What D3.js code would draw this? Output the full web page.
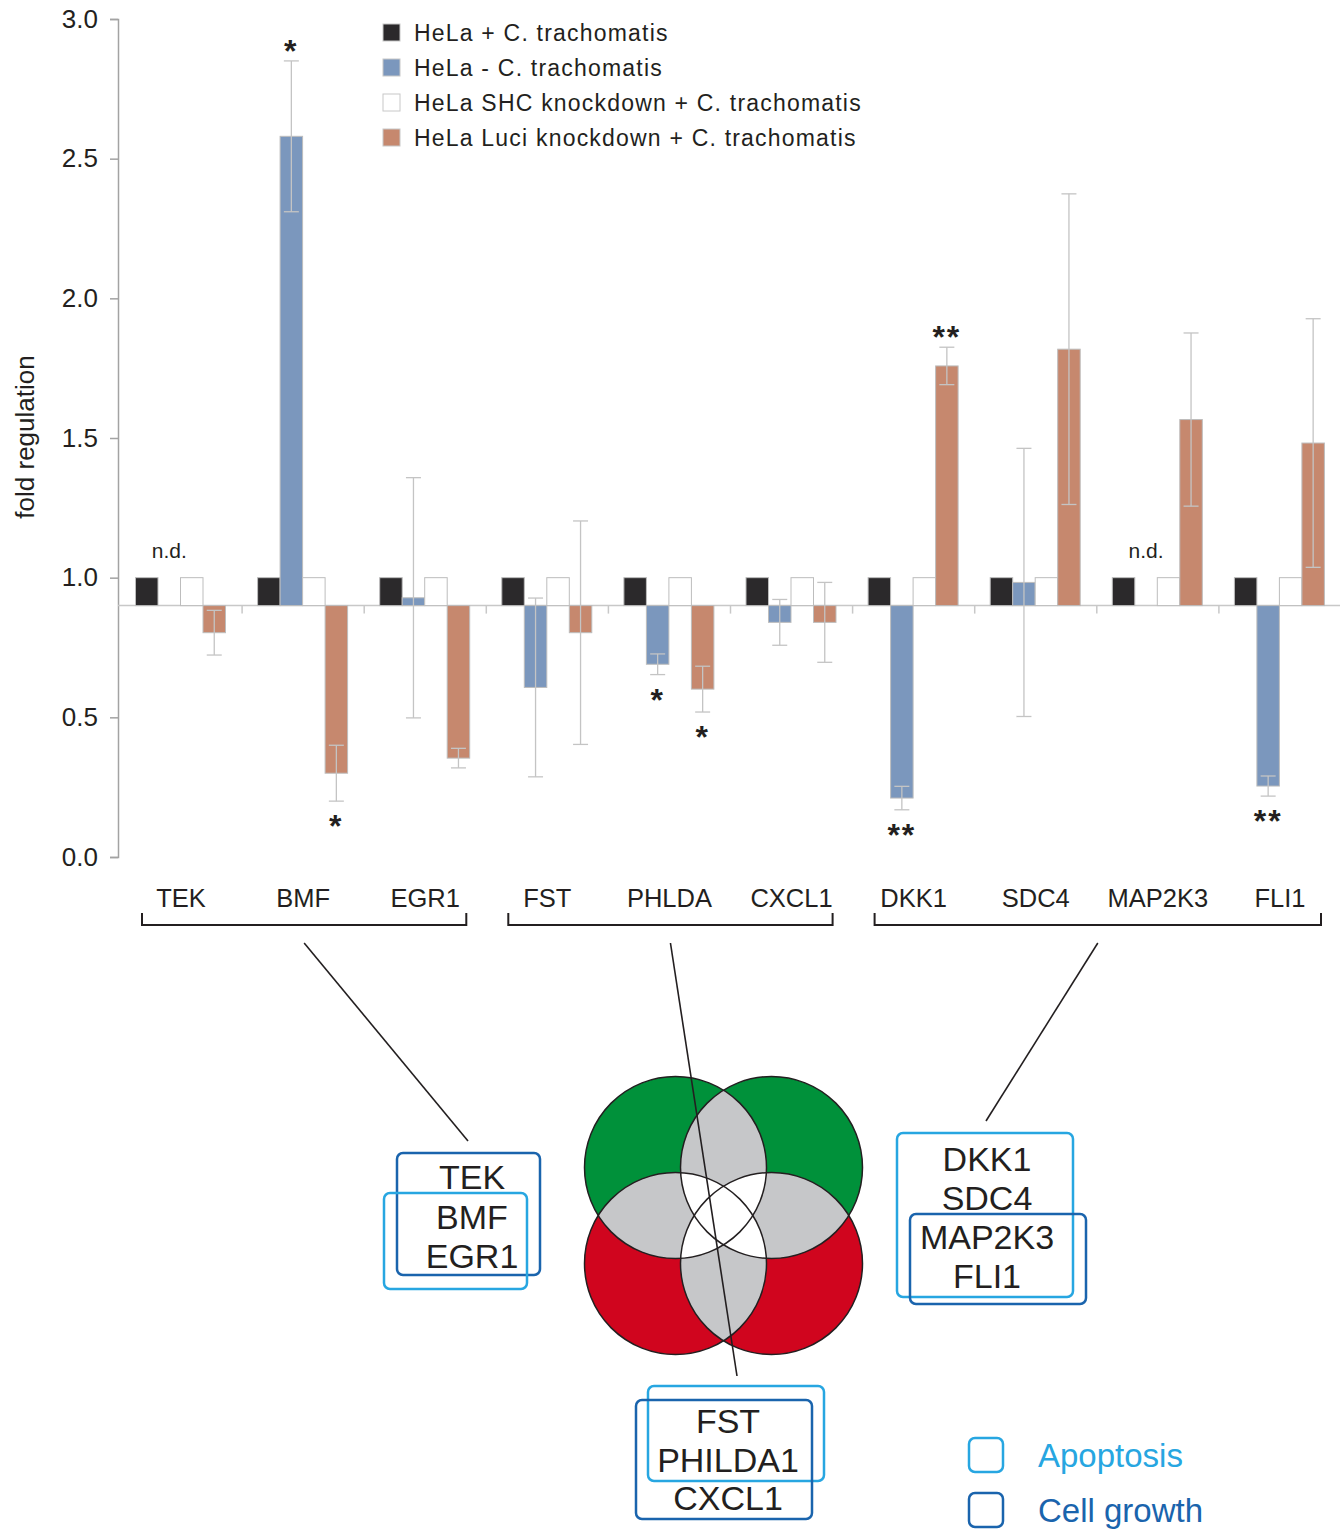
<!DOCTYPE html>
<html>
<head>
<meta charset="utf-8">
<script src="https://cdn.jsdelivr.net/npm/d3@7"></script>
<style>
  body { margin: 0; background: #fff; }
  text { font-family: "Liberation Sans", Arial, sans-serif; fill: #231f20; }
</style>
</head>
<body>
<svg id="chart"></svg>
<script>
// ---- data ----
const genes = ["TEK", "BMF", "EGR1", "FST", "PHLDA", "CXCL1", "DKK1", "SDC4", "MAP2K3", "FLI1"];
const seriesNames = ["HeLa + C. trachomatis", "HeLa - C. trachomatis",
                     "HeLa SHC knockdown + C. trachomatis", "HeLa Luci knockdown + C. trachomatis"];
const seriesColors = ["#2b292b", "#7b97bd", "#ffffff", "#c6886e"];

const infected     = [1, 1, 1, 1, 1, 1, 1, 1, 1, 1];
const uninfected   = [null, 2.58, 0.928, 0.607, 0.69, 0.84, 0.211, 0.983, null, 0.254];
const uninfErr     = [null, 0.27, 0.43, 0.32, 0.037, 0.082, 0.042, 0.48, null, 0.036];
const shcKnockdown = [1, 1, 1, 1, 1, 1, 1, 1, 1, 1];
const luciKnockdown = [0.803, 0.30, 0.354, 0.803, 0.601, 0.84, 1.758, 1.818, 1.566, 1.482];
const luciErr      = [0.08, 0.10, 0.035, 0.40, 0.082, 0.143, 0.067, 0.556, 0.31, 0.445];
const uninfSig     = ["", "*", "", "", "*", "", "**", "", "", "**"];
const luciSig      = ["", "*", "", "", "*", "", "**", "", "", ""];

const yTicks = [0, 0.5, 1.0, 1.5, 2.0, 2.5, 3.0];
const baseValue = 0.9;

const bracketGroups = [["TEK", "EGR1"], ["FST", "CXCL1"], ["DKK1", "FLI1"]];
const boxGenes = [["TEK", "BMF", "EGR1"], ["FST", "PHILDA1", "CXCL1"], ["DKK1", "SDC4", "MAP2K3", "FLI1"]];
const categoryNames = ["Apoptosis", "Cell growth"];
const categoryColors = ["#27a6e1", "#1a64ad"];

// ---- layout ----
const width = 1340, height = 1530;
const svg = d3.select("#chart").attr("width", width).attr("height", height);

const y = d3.scaleLinear().domain([0, 3]).range([857, 19]);
const x0 = d3.scaleBand().domain(genes).range([120, 1341]).padding(0);
const x1 = d3.scaleBand().domain(d3.range(4)).range([15.5, 105.5]).padding(0);
const yBase = y(baseValue);

// y axis
const yAxis = svg.append("g").attr("transform", "translate(118,0)")
  .call(d3.axisLeft(y).tickValues(yTicks).tickFormat(d3.format(".1f")).tickSize(8).tickPadding(12));
yAxis.select(".domain").attr("stroke", "#a3a3a3").attr("stroke-width", 1.5);
yAxis.selectAll(".tick line").attr("stroke", "#a3a3a3").attr("stroke-width", 1.5);
yAxis.selectAll(".tick text").style("font-size", "26px").style("font-family", "Liberation Sans, Arial, sans-serif")
  .attr("fill", "#231f20");

svg.append("text").attr("transform", "translate(34,437) rotate(-90)")
  .attr("text-anchor", "middle").style("font-size", "26px").text("fold regulation");

// baseline + group separators
svg.append("line").attr("x1", 118).attr("x2", 1340).attr("y1", yBase).attr("y2", yBase)
  .attr("stroke", "#c8c8c8").attr("stroke-width", 1.5);
svg.append("g").selectAll("line").data(genes.slice(1)).enter().append("line")
  .attr("x1", d => x0(d)).attr("x2", d => x0(d))
  .attr("y1", yBase).attr("y2", yBase + 8)
  .attr("stroke", "#c8c8c8").attr("stroke-width", 1.5);

// bars
const seriesVals = [infected, uninfected, shcKnockdown, luciKnockdown];
const barData = [];
genes.forEach((g, i) => {
  seriesVals.forEach((vals, s) => {
    if (vals[i] != null) barData.push({gene: g, s: s, v: vals[i]});
  });
});
svg.append("g").selectAll("rect").data(barData).enter().append("rect")
  .attr("x", d => x0(d.gene) + x1(d.s))
  .attr("width", x1.bandwidth())
  .attr("y", d => Math.min(y(d.v), yBase))
  .attr("height", d => Math.abs(y(d.v) - yBase))
  .attr("fill", d => seriesColors[d.s])
  .attr("stroke", "#bdbdbd").attr("stroke-width", 1);

// error bars
const errData = [];
genes.forEach((g, i) => {
  if (uninfected[i] != null) errData.push({gene: g, s: 1, v: uninfected[i], e: uninfErr[i], sig: uninfSig[i]});
  errData.push({gene: g, s: 3, v: luciKnockdown[i], e: luciErr[i], sig: luciSig[i]});
});
const eg = svg.append("g").attr("stroke", "#c4c4c4").attr("stroke-width", 1.3);
errData.forEach(d => {
  const cx = x0(d.gene) + x1(d.s) + x1.bandwidth() / 2;
  eg.append("line").attr("x1", cx).attr("x2", cx).attr("y1", y(d.v + d.e)).attr("y2", y(d.v - d.e));
  [d.v + d.e, d.v - d.e].forEach(v => {
    eg.append("line").attr("x1", cx - 7.5).attr("x2", cx + 7.5).attr("y1", y(v)).attr("y2", y(v));
  });
});

// significance marks
svg.append("g").selectAll("text").data(errData.filter(d => d.sig)).enter().append("text")
  .attr("x", d => x0(d.gene) + x1(d.s) + x1.bandwidth() / 2)
  .attr("y", d => d.v >= baseValue ? y(d.v + d.e) + 1 : y(d.v - d.e) + 36)
  .attr("text-anchor", "middle")
  .style("font-size", "32px").style("font-weight", "bold").style("letter-spacing", "2px")
  .text(d => d.sig);

// n.d.
svg.append("g").selectAll("text").data(genes.filter((g, i) => uninfected[i] == null)).enter().append("text")
  .attr("x", d => x0(d) + x1(1) + x1.bandwidth() / 2)
  .attr("y", y(1) - 20)
  .attr("text-anchor", "middle").style("font-size", "21px").text("n.d.");

// legend
const lg = svg.append("g").attr("transform", "translate(383,24)");
lg.selectAll("rect").data(seriesNames).enter().append("rect")
  .attr("x", 0).attr("y", (d, i) => i * 35).attr("width", 17).attr("height", 17)
  .attr("fill", (d, i) => seriesColors[i]).attr("stroke", "#c8c8c8").attr("stroke-width", 1);
lg.selectAll("text").data(seriesNames).enter().append("text")
  .attr("x", 31).attr("y", (d, i) => i * 35 + 17)
  .style("font-size", "23px").style("letter-spacing", "1.2px").text(d => d);

// gene labels
svg.append("g").selectAll("text").data(genes).enter().append("text")
  .attr("x", d => x0(d) + x0.bandwidth() / 2).attr("y", 907)
  .attr("text-anchor", "middle").style("font-size", "25.5px").text(d => d);

// brackets
const bracketY = 925;
const brackets = bracketGroups.map(b => ({x1: x0(b[0]) + 22, x2: x0(b[1]) + x0.bandwidth() - 20}));
const bg = svg.append("g").attr("fill", "none").attr("stroke", "#231f20").attr("stroke-width", 2);
brackets.forEach(b => {
  bg.append("path").attr("d", `M${b.x1},${bracketY - 12}V${bracketY}H${b.x2}V${bracketY - 12}`);
});

// venn diagram
const vennCx = 723.5, vennCy = 1215.5, vennOff = 48, vennR = 91;
const circles = [
  {cx: vennCx - vennOff, cy: vennCy - vennOff, fill: "#00913a"},
  {cx: vennCx + vennOff, cy: vennCy - vennOff, fill: "#00913a"},
  {cx: vennCx - vennOff, cy: vennCy + vennOff, fill: "#d0051e"},
  {cx: vennCx + vennOff, cy: vennCy + vennOff, fill: "#d0051e"}
];
const defs = svg.append("defs");
circles.forEach((c, i) => {
  defs.append("clipPath").attr("id", "vc" + i).append("circle")
    .attr("cx", c.cx).attr("cy", c.cy).attr("r", vennR);
});
const vg = svg.append("g");
circles.forEach(c => {
  vg.append("circle").attr("cx", c.cx).attr("cy", c.cy).attr("r", vennR).attr("fill", c.fill);
});
for (let i = 0; i < 4; i++) for (let j = i + 1; j < 4; j++) {
  vg.append("g").attr("clip-path", `url(#vc${i})`).append("circle")
    .attr("cx", circles[j].cx).attr("cy", circles[j].cy).attr("r", vennR).attr("fill", "#c6c7c9");
}
for (let i = 0; i < 4; i++) for (let j = i + 1; j < 4; j++) for (let k = j + 1; k < 4; k++) {
  vg.append("g").attr("clip-path", `url(#vc${i})`)
    .append("g").attr("clip-path", `url(#vc${j})`)
    .append("circle").attr("cx", circles[k].cx).attr("cy", circles[k].cy).attr("r", vennR).attr("fill", "#ffffff");
}
circles.forEach(c => {
  vg.append("circle").attr("cx", c.cx).attr("cy", c.cy).attr("r", vennR)
    .attr("fill", "none").attr("stroke", "#231f20").attr("stroke-width", 1.5);
});

// gene boxes (apoptosis = light, cell growth = dark)
const boxes = [
  {lines: boxGenes[0], tx: 472, ty: 1189, lh: 39.5,
   rects: [{c: 1, x: 397, y: 1153, w: 143, h: 122}, {c: 0, x: 384, y: 1193, w: 143, h: 96}],
   anchor: [468, 1141]},
  {lines: boxGenes[1], tx: 728, ty: 1433, lh: 38.5,
   rects: [{c: 0, x: 648, y: 1386, w: 176, h: 95}, {c: 1, x: 636, y: 1400, w: 176, h: 119}],
   anchor: [737, 1376]},
  {lines: boxGenes[2], tx: 987, ty: 1171, lh: 39,
   rects: [{c: 0, x: 897, y: 1133, w: 176, h: 164}, {c: 1, x: 910, y: 1214, w: 176, h: 90}],
   anchor: [986, 1121]}
];
const boxG = svg.append("g");
boxes.forEach((b, bi) => {
  b.rects.forEach(r => {
    boxG.append("rect").attr("x", r.x).attr("y", r.y).attr("width", r.w).attr("height", r.h)
      .attr("rx", 6).attr("fill", "none").attr("stroke", categoryColors[r.c]).attr("stroke-width", 2.5);
  });
  boxG.selectAll(null).data(b.lines).enter().append("text")
    .attr("x", b.tx).attr("y", (d, i) => b.ty + i * b.lh)
    .attr("text-anchor", "middle").style("font-size", "34px").text(d => d);
  const bx = (brackets[bi].x1 + brackets[bi].x2) / 2;
  svg.append("line").attr("x1", bx).attr("y1", bracketY + 18).attr("x2", b.anchor[0]).attr("y2", b.anchor[1])
    .attr("stroke", "#231f20").attr("stroke-width", 1.6);
});

// category legend
const cl = svg.append("g").attr("transform", "translate(969,1438)");
cl.selectAll("rect").data(categoryNames).enter().append("rect")
  .attr("x", 0).attr("y", (d, i) => i * 55).attr("width", 34).attr("height", 34).attr("rx", 6)
  .attr("fill", "none").attr("stroke", (d, i) => categoryColors[i]).attr("stroke-width", 2.5);
cl.selectAll("text").data(categoryNames).enter().append("text")
  .attr("x", 69).attr("y", (d, i) => i * 55 + 29)
  .style("font-size", "33px").style("fill", (d, i) => categoryColors[i]).text(d => d);
</script>
</body>
</html>
